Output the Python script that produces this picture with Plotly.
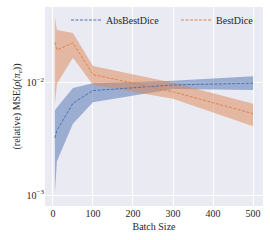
import plotly.graph_objects as go

batch = [5, 10, 50, 100, 300, 500]

abs_mean = [0.00323, 0.00376, 0.00656, 0.0085, 0.00954, 0.0099]
abs_upper = [0.00565, 0.0060, 0.00898, 0.00986, 0.0104, 0.0114]
abs_lower = [0.00105, 0.0020, 0.0043, 0.0067, 0.0088, 0.0086]

best_mean = [0.0228, 0.0196, 0.0226, 0.0118, 0.0083, 0.0053]
best_upper = [0.038, 0.0294, 0.0276, 0.0141, 0.0100, 0.0065]
best_lower = [0.0065, 0.0098, 0.0167, 0.0096, 0.0072, 0.0041]

x_ticks = [0, 100, 200, 300, 400, 500]
y_ticks = [1e-3, 1e-2]
y_ticktext = ["10<sup>\u22123</sup>", "10<sup>\u22122</sup>"]

BLUE = "#4C72B0"
ORANGE = "#DD8452"
FONT = "Liberation Serif"
TEXT = "#262626"

fig = go.Figure()

def band(x, lo, hi, color):
    fig.add_trace(go.Scatter(
        x=list(x) + list(x)[::-1],
        y=list(hi) + list(lo)[::-1],
        fill="toself", fillcolor=color, opacity=0.5,
        line=dict(width=0), mode="lines", showlegend=False, hoverinfo="skip"))

band(batch, abs_lower, abs_upper, BLUE)
band(batch, best_lower, best_upper, ORANGE)

fig.add_trace(go.Scatter(x=batch, y=abs_mean, mode="lines", name="AbsBestDice",
                         line=dict(color=BLUE, width=1, dash="3px,1.5px"),
                         legend="legend"))
fig.add_trace(go.Scatter(x=batch, y=best_mean, mode="lines", name="BestDice",
                         line=dict(color=ORANGE, width=1, dash="3px,1.5px"),
                         legend="legend2"))

leg_common = dict(orientation="h", y=0.93, xanchor="left", yanchor="middle",
                  bgcolor="rgba(0,0,0,0)", font=dict(size=10, family=FONT, color=TEXT))

fig.update_layout(
    width=270, height=240,
    margin=dict(l=45, r=7, t=6, b=34),
    paper_bgcolor="white", plot_bgcolor="#EAEAF2",
    font=dict(family=FONT, size=10, color=TEXT),
    legend=dict(x=0.096, **leg_common),
    legend2=dict(x=0.601, **leg_common),
)
fig.update_xaxes(range=[-19.75, 524.75], tickvals=x_ticks, showgrid=True,
                 gridcolor="white", gridwidth=1, zeroline=False, ticks="",
                 automargin=False,
                 title=dict(text="Batch Size", standoff=4, font=dict(size=10)),
                 showline=False)
fig.update_yaxes(type="log", range=[-3.097, -1.327], tickvals=y_ticks,
                 ticktext=y_ticktext, showgrid=True, gridcolor="white",
                 gridwidth=1, zeroline=False, ticks="", showline=False,
                 automargin=False,
                 title=dict(text="(relative) MSE(<i>\u03c1</i>(<i>\u03c0<sub>e</sub></i>))",
                            standoff=4, font=dict(size=10)))

fig.write_html("out.html", config={"displayModeBar": False},
               post_script="document.body.style.margin='0';")
